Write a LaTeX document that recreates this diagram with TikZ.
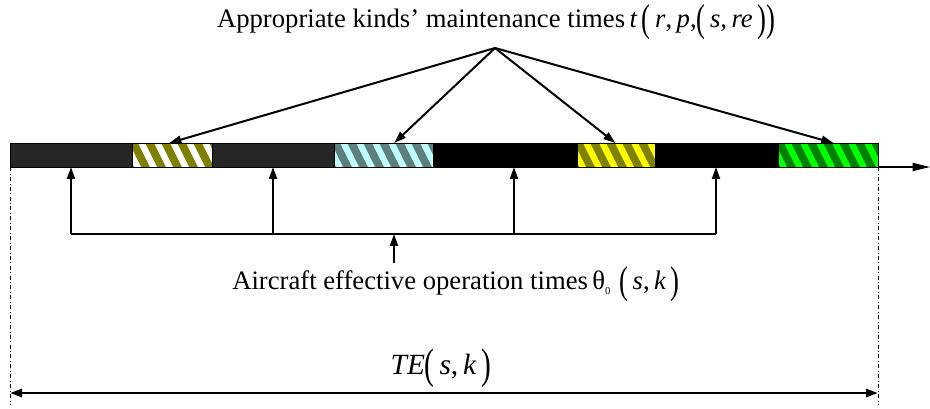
\documentclass[tikz,border=0pt]{standalone}
\usepackage{fontspec}
\usepackage{graphicx}
\setmainfont{Liberation Serif}
\usetikzlibrary{arrows.meta}
\definecolor{segdark}{HTML}{262626}
\definecolor{olivebg}{HTML}{808000}
\definecolor{tealbg}{HTML}{5F7F7F}
\definecolor{tealfg}{HTML}{C0FFFF}
\definecolor{yelbg}{HTML}{808000}
\definecolor{yelfg}{HTML}{FFFF00}
\definecolor{grnbg}{HTML}{008000}
\definecolor{grnfg}{HTML}{00FF00}
\newcommand{\tpar}[1]{\raisebox{-0.28ex}{\scalebox{1}[1.45]{#1}}}
\newcommand{\hatchseg}[5]{%
  \begin{scope}
    \clip (#1,143) rectangle (#2,167);
    \fill[#3] (#1,143) rectangle (#2,167);
    \foreach \k in {0,...,7} {
      \fill[#4] ({#1+16*\k-10},143) -- ({#1+16*\k-3},143) -- ({#1+16*\k+9},167) -- ({#1+16*\k+2},167) -- cycle;
    }
  \end{scope}
  \pgfmathsetmacro{\segw}{(#2-#1)*0.75}
  \node[seg] (#5) at ({(#1+#2)/2},155) [minimum width=\segw pt] {};
}
\begin{document}
\begin{tikzpicture}[x=0.75pt,y=-0.75pt,
  seg/.style={draw=black,line width=0.6pt,minimum height=18pt,inner sep=0pt,outer sep=0pt},
  arr/.style={-{Triangle[length=9pt,width=6pt]},line width=1.5pt},
  conn/.style={line width=1.5pt},
  lbl/.style={font=\fontsize{20}{23}\selectfont,inner sep=0pt}]
\useasboundingbox (0,0) rectangle (930,409);
% plain segments
\node[seg,fill=segdark,minimum width={122*0.75pt}] (s1) at (71,155) {};
\node[seg,fill=segdark,minimum width={122*0.75pt}] (s3) at (273,155) {};
\node[seg,fill=black,minimum width={144*0.75pt}] (s5) at (505,155) {};
\node[seg,fill=black,minimum width={123*0.75pt}] (s7) at (716.5,155) {};
% hatched segments
\hatchseg{132}{212}{olivebg}{white}{s2}
\hatchseg{334}{433}{tealbg}{tealfg}{s4}
\hatchseg{577}{655}{yelbg}{yelfg}{s6}
\hatchseg{778}{878}{grnbg}{grnfg}{s8}
% time axis
\coordinate (axisend) at (930,167);
\draw[-{Triangle[length=13pt,width=6pt]},line width=1.2pt] (s8.south east) -- (axisend);
% top label and arrows
\node[lbl] (top) at (496,22) {Appropriate kinds’ maintenance times\,\textit{t}\,\tpar{(}\,\textit{r},\,\textit{p},\tpar{(}\,\textit{s},\,\textit{re}\,\tpar{)}\tpar{)}};
\coordinate (apex) at (495,48);
\draw[arr] (apex) -- ([xshift=-2pt]s2.north);
\draw[arr] (apex) -- ([xshift=8pt]s4.north);
\draw[arr] (apex) -- ([xshift=-0.5pt]s6.north);
\draw[arr] (apex) -- ([xshift=4pt]s8.north);
% bottom bracket
\coordinate (b1) at (71,234);
\coordinate (b2) at (273,234);
\coordinate (b3) at (514,234);
\coordinate (b4) at (716,234);
\coordinate (bc) at (394,234);
\draw[conn] (b1) -- (b4);
\draw[arr] (b1) -- (b1 |- s1.south);
\draw[arr] (b2) -- (b2 |- s3.south);
\draw[arr] (b3) -- (b3 |- s5.south);
\draw[arr] (b4) -- (b4 |- s7.south);
\node[lbl] (bot) at (456,284) {Aircraft effective operation times\,θ\raisebox{-0.4ex}{\fontsize{8}{9}\selectfont 0}\,\,\tpar{(}\,\textit{s},\,\textit{k}\,\tpar{)}};
\coordinate (bcs) at (394,263);
\draw[arr] (bcs) -- (bc);
% span
\coordinate (l1) at (10,167);
\coordinate (l2) at (10,405);
\coordinate (r1) at (878,167);
\coordinate (r2) at (878,405);
\draw[dash dot,line width=0.5pt] (l1) -- (l2);
\draw[dash dot,line width=0.5pt] (r1) -- (r2);
\coordinate (tl) at (10,393);
\coordinate (tr) at (878,393);
\draw[{Triangle[length=9pt,width=6pt]}-{Triangle[length=9pt,width=6pt]},line width=2pt] (tl) -- (tr);
\node[lbl,font=\fontsize{22}{25}\selectfont] (te) at (441,368) {\textit{TE}\tpar{(}\,\textit{s},\,\textit{k}\,\tpar{)}};
\end{tikzpicture}
\end{document}
